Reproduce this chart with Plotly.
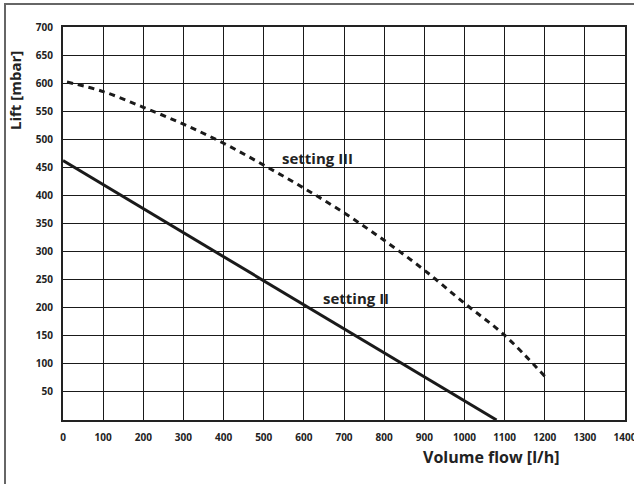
import plotly.graph_objects as go

# data
flow_ii = [0, 1080]
lift_ii = [462, 0]

flow_iii = [10, 100, 200, 300, 400, 500, 600, 700, 800, 900, 1000, 1100, 1200]
lift_iii = [602, 585, 557, 527, 493, 454, 413, 369, 320, 267, 208, 151, 78]

x_ticks = [0, 100, 200, 300, 400, 500, 600, 700, 800, 900, 1000, 1100, 1200, 1300, 1400]
y_ticks = [50, 100, 150, 200, 250, 300, 350, 400, 450, 500, 550, 600, 650, 700]

FONT = "Open Sans"

fig = go.Figure()
fig.add_trace(go.Scatter(x=flow_ii, y=lift_ii, mode="lines",
                         line=dict(color="#1a1a1a", width=3), showlegend=False))
fig.add_trace(go.Scatter(x=flow_iii, y=lift_iii, mode="lines", line_shape="spline",
                         line=dict(color="#1a1a1a", width=3, dash="6px,5px"), showlegend=False))

fig.add_annotation(x=635, y=467, text="<b>setting III</b>", showarrow=False,
                   font=dict(family=FONT, size=15, color="#222"))
fig.add_annotation(x=730, y=217, text="<b>setting II</b>", showarrow=False,
                   font=dict(family=FONT, size=15, color="#222"))

# outer frame
fig.add_shape(type="rect", xref="paper", yref="paper",
              x0=-0.1032, x1=1.1, y0=-0.3, y1=1.0585,
              line=dict(color="#666", width=2), layer="below")

fig.add_annotation(xref="paper", yref="paper", x=-0.0854, y=0.837, text="<b>Lift [mbar]</b>",
                   textangle=-90, showarrow=False, xanchor="center", yanchor="middle",
                   font=dict(family=FONT, size=15, color="#222"))
fig.add_annotation(xref="paper", yref="paper", x=0.7616, y=-0.094, text="<b>Volume flow [l/h]</b>",
                   showarrow=False, xanchor="center", yanchor="middle",
                   font=dict(family=FONT, size=16, color="#222"))

fig.update_xaxes(range=[0, 1400], tickvals=x_ticks, ticktext=[f"<b>{v}</b>" for v in x_ticks],
                 showgrid=True, gridcolor="#1a1a1a", gridwidth=1, zeroline=False,
                 showline=True, linecolor="#222", linewidth=2, mirror=True,
                 ticks="", ticklabelstandoff=7, ticklabeloverflow="allow", automargin=False,
                 tickfont=dict(family=FONT, size=10, color="#222"))
fig.update_yaxes(range=[0, 700], tickvals=y_ticks, ticktext=[f"<b>{v}</b>" for v in y_ticks],
                 showgrid=True, gridcolor="#1a1a1a", gridwidth=1, zeroline=False,
                 showline=True, linecolor="#222", linewidth=2, mirror=True,
                 ticks="", ticklabelstandoff=6, ticklabeloverflow="allow", automargin=False,
                 tickfont=dict(family=FONT, size=10, color="#222"))

fig.update_layout(width=634, height=484, margin=dict(l=63, r=9, t=27, b=64),
                  plot_bgcolor="white", paper_bgcolor="white")

fig.write_html("out.html", config={"displayModeBar": False},
               post_script="document.body.style.margin='0';document.body.style.overflow='hidden';")
